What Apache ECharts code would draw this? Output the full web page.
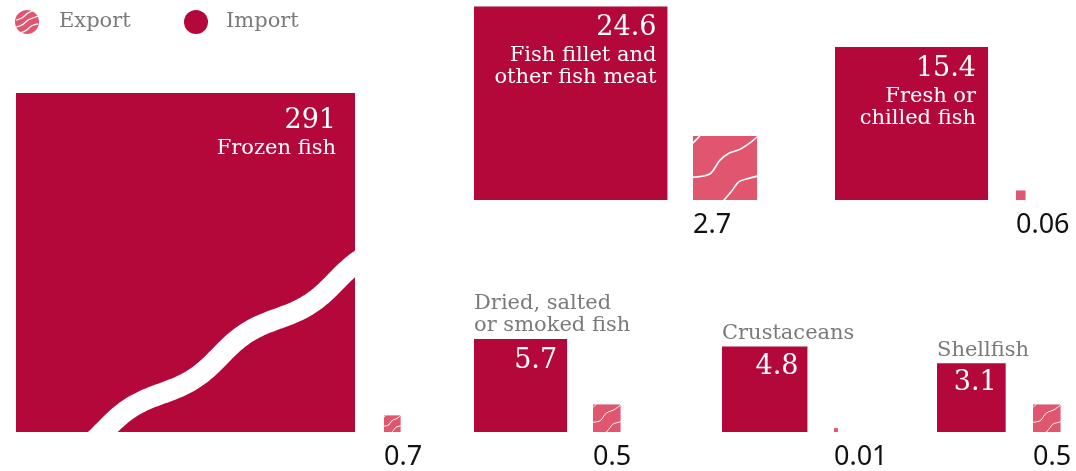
<!DOCTYPE html>
<html>
<head>
<meta charset="utf-8">
<script src="https://cdn.jsdelivr.net/npm/echarts@6/dist/echarts.min.js"></script>
<style>
  html, body { margin: 0; padding: 0; background: #fff; }
  #chart { width: 1076px; height: 471px; }
</style>
</head>
<body>
<div id="chart"></div>
<script>
// Fish trade by product group, import vs export
const categories = ['Frozen fish', 'Fish fillet and\nother fish meat', 'Fresh or\nchilled fish',
  'Dried, salted\nor smoked fish', 'Crustaceans', 'Shellfish'];
const importValues = [291, 24.6, 15.4, 5.7, 4.8, 3.1];
const exportValues = [0.7, 2.7, 0.06, 0.5, 0.01, 0.5];
const importLabels = ['291', '24.6', '15.4', '5.7', '4.8', '3.1'];
const exportLabels = ['0.7', '2.7', '0.06', '0.5', '0.01', '0.5'];

// Panel placement in axis units (axes span the whole canvas, 1 unit = 1 px)
const panels = [
  { impX: 16,  baseY: 432, expX: 384,  nameInside: true,  pad: 19, numDy: 28, nameDy: 45, cap: 339 },
  { impX: 474, baseY: 200, expX: 693,  nameInside: true,  pad: 11, numDy: 21, nameDy: 38 },
  { impX: 835, baseY: 200, expX: 1016, nameInside: true,  pad: 12, numDy: 22, nameDy: 39 },
  { impX: 474, baseY: 432, expX: 593,  nameInside: false, pad: 10, numDy: 22 },
  { impX: 722, baseY: 432, expX: 834,  nameInside: false, pad: 9,  numDy: 20 },
  { impX: 937, baseY: 432, expX: 1033, nameInside: false, pad: 9,  numDy: 20 }
];
const K = 39; // square side per sqrt(value)

const IMPORT_COLOR = '#b4073a';
const EXPORT_COLOR = '#e0566f';
const GRAY = '#7a7a7a';
const SERIF = '"DejaVu Serif", serif';
const SANS = '"Noto Sans", "Open Sans", sans-serif';

// broken panels are drawn at a reduced scale so the big square fits
function panelScale(i) {
  const p = panels[i];
  return p.cap ? p.cap / (K * Math.sqrt(importValues[i])) : 1;
}

// wavy hatch lines inside an export square (normalised coordinates)
const WAVES = [
  [[-0.04, 0.15], [0.0, 0.11], [0.06, 0.05], [0.12, -0.02]],
  [[-0.02, 0.645], [0.14, 0.63], [0.28, 0.58], [0.42, 0.38], [0.56, 0.27], [0.73, 0.21], [0.9, 0.1], [1.03, -0.01]],
  [[0.46, 1.03], [0.62, 0.84], [0.71, 0.72], [0.85, 0.67], [1.03, 0.62]]
];

// scale-break band: a gentle wave running diagonally across the square
// (normalised to the square side)
function breakBand(x, y, s) {
  const ox = 0.431, oy = 0.886, slope = -0.645;
  const len = Math.sqrt(1 + slope * slope);
  const ux = 1 / len, uy = slope / len;   // along the band
  const nx = -uy, ny = ux;                // across the band
  const wave = 0.407, amp = 0.0147;
  const pts = [];
  for (let u = 0.17; u <= 1.08; u += 0.005) {
    const ax = u, ay = oy + slope * (u - ox);
    const d = (u - ox) / ux;
    const o = amp * Math.sin(2 * Math.PI * d / wave);
    pts.push([x + (ax + o * nx) * s, y + (ay + o * ny) * s]);
  }
  return pts;
}

function toPts(norm, x, y, s) {
  return norm.map(([u, v]) => [x + u * s, y + v * s]);
}

function renderImport(params, api) {
  const i = params.dataIndex;
  const p = panels[i];
  const side = K * Math.sqrt(api.value(2)) * panelScale(i);
  const a = api.coord([api.value(0), api.value(1)]);
  const b = api.coord([api.value(0) + side, api.value(1) - side]);
  const x = a[0], y = b[1], s = b[0] - a[0];
  const children = [{
    type: 'rect', shape: { x: x, y: y, width: s, height: s },
    style: { fill: IMPORT_COLOR }
  }];
  if (p.cap) {
    children.push({
      type: 'polyline', shape: { points: breakBand(x, y, s) },
      style: { stroke: '#fff', lineWidth: 21, fill: null, lineCap: 'butt', lineJoin: 'round' }
    });
  }
  children.push({
    type: 'text',
    style: {
      text: importLabels[i], x: x + s - p.pad, y: y + p.numDy,
      fill: '#fff', fontSize: 27, fontFamily: SERIF,
      align: 'right', verticalAlign: 'middle'
    }
  });
  if (p.nameInside) {
    children.push({
      type: 'text',
      style: {
        text: categories[i], x: x + s - p.pad, y: y + p.nameDy,
        fill: '#fff', fontSize: 21, fontFamily: SERIF, lineHeight: 22,
        align: 'right', verticalAlign: 'top'
      }
    });
  } else {
    children.push({
      type: 'text',
      style: {
        text: categories[i], x: x, y: y - 2,
        fill: GRAY, fontSize: 21, fontFamily: SERIF, lineHeight: 22,
        align: 'left', verticalAlign: 'bottom'
      }
    });
  }
  return { type: 'group', children: children };
}

function renderExport(params, api) {
  const i = params.dataIndex;
  const side = K * Math.sqrt(api.value(2)) * panelScale(i);
  const a = api.coord([api.value(0), api.value(1)]);
  const b = api.coord([api.value(0) + side, api.value(1) - side]);
  const x = a[0], y = b[1], s = b[0] - a[0];
  const children = [{
    type: 'rect', shape: { x: x, y: y, width: s, height: s },
    style: { fill: EXPORT_COLOR }
  }];
  if (s > 14) {
    WAVES.forEach(w => children.push({
      type: 'polyline', shape: { points: toPts(w, x, y, s), smooth: 0.35 },
      style: { stroke: '#fff', lineWidth: s > 40 ? 1.6 : 1, fill: null }
    }));
  }
  children.push({
    type: 'text',
    style: {
      text: exportLabels[i], x: x, y: a[1] + 25,
      fill: '#111', fontSize: 27, fontFamily: SANS,
      align: 'left', verticalAlign: 'middle'
    }
  });
  return { type: 'group', children: children };
}

// legend marks
function legendWaves(cx, cy, r) {
  const s = 2 * r, x = cx - r, y = cy - r;
  return [
    [[0.05, 0.42], [0.3, 0.32], [0.55, 0.12], [0.8, 0.02]],
    [[0.02, 0.72], [0.3, 0.62], [0.55, 0.42], [0.98, 0.25]],
    [[0.2, 0.95], [0.45, 0.86], [0.7, 0.66], [0.97, 0.58]]
  ].map(w => ({
    type: 'polyline', shape: { points: toPts(w, x, y, s), smooth: 0.4 },
    style: { stroke: '#fff', lineWidth: 1.2, fill: null }
  }));
}

const chart = echarts.init(document.getElementById('chart'), null, { renderer: 'canvas' });
chart.setOption({
  backgroundColor: '#fff',
  animation: false,
  grid: { left: 0, right: 0, top: 0, bottom: 0 },
  xAxis: { type: 'value', min: 0, max: 1076, show: false },
  yAxis: { type: 'value', min: 0, max: 471, inverse: true, show: false },
  graphic: [
    { type: 'circle', shape: { cx: 27, cy: 22, r: 12 }, style: { fill: EXPORT_COLOR } },
    ...legendWaves(27, 22, 12),
    { type: 'text', style: { text: 'Export', x: 59, y: 22, fill: GRAY, fontSize: 21,
      fontFamily: SERIF, verticalAlign: 'middle' } },
    { type: 'circle', shape: { cx: 196, cy: 22, r: 12 }, style: { fill: IMPORT_COLOR } },
    { type: 'text', style: { text: 'Import', x: 226, y: 22, fill: GRAY, fontSize: 21,
      fontFamily: SERIF, verticalAlign: 'middle' } }
  ],
  series: [
    {
      name: 'Import', type: 'custom', clip: false, renderItem: renderImport,
      encode: { x: 0, y: 1 },
      data: importValues.map((v, i) => [panels[i].impX, panels[i].baseY, v])
    },
    {
      name: 'Export', type: 'custom', clip: false, renderItem: renderExport,
      encode: { x: 0, y: 1 },
      data: exportValues.map((v, i) => [panels[i].expX, panels[i].baseY, v])
    }
  ]
});
</script>
</body>
</html>
